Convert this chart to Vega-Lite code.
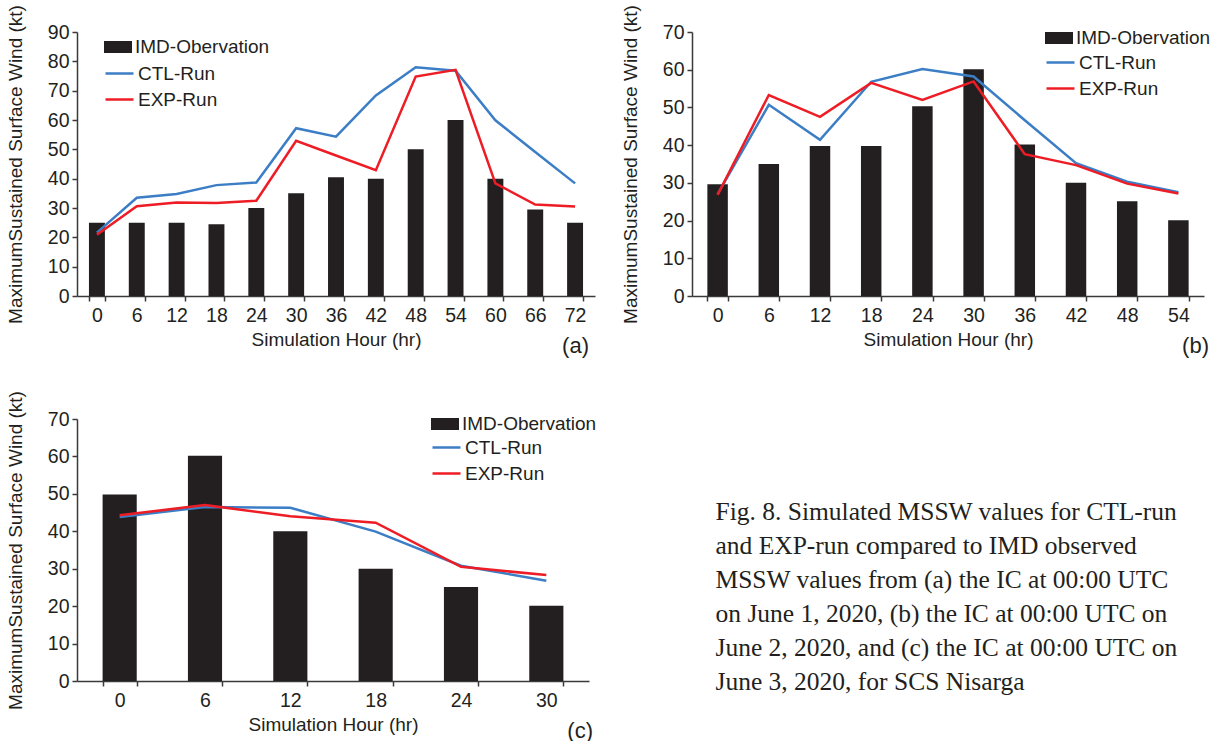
{
  "$schema": "https://vega.github.io/schema/vega-lite/v6.json",
  "background": "white",
  "padding": {"left": 6, "top": 4, "right": 0, "bottom": 0},
  "datasets": {
    "runA": [
      {"hour": 0, "IMD-Obervation": 25, "CTL-Run": 21.6, "EXP-Run": 20.9},
      {"hour": 6, "IMD-Obervation": 25, "CTL-Run": 33.5, "EXP-Run": 30.6},
      {"hour": 12, "IMD-Obervation": 25, "CTL-Run": 34.8, "EXP-Run": 31.9},
      {"hour": 18, "IMD-Obervation": 24.5, "CTL-Run": 37.8, "EXP-Run": 31.7},
      {"hour": 24, "IMD-Obervation": 30, "CTL-Run": 38.7, "EXP-Run": 32.5},
      {"hour": 30, "IMD-Obervation": 35, "CTL-Run": 57.2, "EXP-Run": 52.9},
      {"hour": 36, "IMD-Obervation": 40.5, "CTL-Run": 54.3, "EXP-Run": 47.9},
      {"hour": 42, "IMD-Obervation": 40, "CTL-Run": 68.4, "EXP-Run": 42.9},
      {"hour": 48, "IMD-Obervation": 50, "CTL-Run": 78.0, "EXP-Run": 74.8},
      {"hour": 54, "IMD-Obervation": 60, "CTL-Run": 76.8, "EXP-Run": 77.1},
      {"hour": 60, "IMD-Obervation": 40, "CTL-Run": 59.9, "EXP-Run": 38.4},
      {"hour": 66, "IMD-Obervation": 29.5, "CTL-Run": 49.1, "EXP-Run": 31.2},
      {"hour": 72, "IMD-Obervation": 25, "CTL-Run": 38.4, "EXP-Run": 30.5}
    ],
    "runB": [
      {"hour": 0, "IMD-Obervation": 29.6, "CTL-Run": 27.0, "EXP-Run": 26.8},
      {"hour": 6, "IMD-Obervation": 35, "CTL-Run": 50.7, "EXP-Run": 53.3},
      {"hour": 12, "IMD-Obervation": 39.8, "CTL-Run": 41.4, "EXP-Run": 47.5},
      {"hour": 18, "IMD-Obervation": 39.8, "CTL-Run": 56.8, "EXP-Run": 56.5},
      {"hour": 24, "IMD-Obervation": 50.3, "CTL-Run": 60.2, "EXP-Run": 52.0},
      {"hour": 30, "IMD-Obervation": 60.1, "CTL-Run": 58.2, "EXP-Run": 56.9},
      {"hour": 36, "IMD-Obervation": 40.2, "CTL-Run": 46.6, "EXP-Run": 37.6},
      {"hour": 42, "IMD-Obervation": 30, "CTL-Run": 35.2, "EXP-Run": 34.7},
      {"hour": 48, "IMD-Obervation": 25.1, "CTL-Run": 30.3, "EXP-Run": 29.8},
      {"hour": 54, "IMD-Obervation": 20.1, "CTL-Run": 27.5, "EXP-Run": 27.2}
    ],
    "runC": [
      {"hour": 0, "IMD-Obervation": 49.8, "CTL-Run": 43.8, "EXP-Run": 44.3},
      {"hour": 6, "IMD-Obervation": 60.2, "CTL-Run": 46.5, "EXP-Run": 47.0},
      {"hour": 12, "IMD-Obervation": 40, "CTL-Run": 46.3, "EXP-Run": 44.0},
      {"hour": 18, "IMD-Obervation": 30, "CTL-Run": 39.9, "EXP-Run": 42.3},
      {"hour": 24, "IMD-Obervation": 25.1, "CTL-Run": 30.8, "EXP-Run": 30.5},
      {"hour": 30, "IMD-Obervation": 20.1, "CTL-Run": 26.8, "EXP-Run": 28.3}
    ],
    "caption": [
      {"text": "Fig. 8. Simulated MSSW values for CTL-run\nand EXP-run compared to IMD observed\nMSSW values from (a) the IC at 00:00 UTC\non June 1, 2020, (b) the IC at 00:00 UTC on\nJune 2, 2020, and (c) the IC at 00:00 UTC on\nJune 3, 2020, for SCS Nisarga"}
    ]
  },
  "config": {
    "font": "Liberation Sans",
    "view": {"stroke": null},
    "axis": {
      "grid": false,
      "domainColor": "#3a3a3a",
      "domainWidth": 1.5,
      "tickColor": "#3a3a3a",
      "tickWidth": 1.5,
      "tickSize": 5,
      "labelColor": "#231f20",
      "titleColor": "#231f20",
      "labelFont": "Liberation Sans",
      "titleFont": "Liberation Sans",
      "labelFontSize": 19.5,
      "titleFontSize": 19,
      "titleFontWeight": "normal",
      "labelPadding": 3
    },
    "axisX": {"titleFontSize": 19, "labelPadding": 5},
    "legend": {
      "title": null,
      "orient": "none",
      "padding": 0,
      "labelFont": "Liberation Sans",
      "labelFontSize": 19,
      "labelColor": "#231f20",
      "labelOffset": 3,
      "rowPadding": -4,
      "symbolSize": 784
    },
    "title": {"font": "Liberation Sans", "fontSize": 22, "fontWeight": "normal", "color": "#231f20"}
  },
  "resolve": {
    "scale": {"fill": "independent", "stroke": "independent"},
    "legend": {"fill": "independent", "stroke": "independent"}
  },
  "spacing": 33,
  "vconcat": [
    {
      "spacing": 26,
      "resolve": {
        "scale": {"fill": "independent", "stroke": "independent"},
        "legend": {"fill": "independent", "stroke": "independent"}
      },
      "hconcat": [
        {
          "width": 518,
          "height": 264,
          "data": {"name": "runA"},
          "title": {"text": "(a)", "orient": "bottom", "anchor": "end", "frame": "group", "offset": -14, "dx": -6},
          "encoding": {
            "x": {
              "field": "hour", "type": "ordinal",
              "scale": {"paddingInner": 0.6, "paddingOuter": 0.3},
              "axis": {"title": "Simulation Hour (hr)", "labelAngle": 0, "tickBand": "extent", "titlePadding": 6}
            },
            "y": {"field": "value", "type": "quantitative", "scale": {"domain": [0, 90]},
                  "axis": {"title": "MaximumSustained Surface Wind (kt)", "values": [0,10,20,30,40,50,60,70,80,90], "titlePadding": 22}}
          },
          "layer": [
            {
              "transform": [{"fold": ["IMD-Obervation"], "as": ["series", "value"]}],
              "mark": {"type": "bar"},
              "encoding": {
                "fill": {"field": "series", "type": "nominal", "scale": {"range": ["#231f20"]},
                         "legend": {"symbolType": "M-1,-0.43H1V0.43H-1Z", "symbolStrokeWidth": 0, "legendX": 27, "legendY": 1}}
              }
            },
            {
              "transform": [{"fold": ["CTL-Run", "EXP-Run"], "as": ["series", "value"]}],
              "mark": {"type": "line", "strokeWidth": 2.5},
              "encoding": {
                "stroke": {"field": "series", "type": "nominal",
                           "scale": {"domain": ["CTL-Run", "EXP-Run"], "range": ["#3b7ec6", "#ee1c25"]},
                           "legend": {"symbolType": "M-1,0H1", "symbolStrokeWidth": 2.5, "legendX": 27, "legendY": 26}}
              }
            }
          ]
        },
        {
          "width": 512,
          "height": 264,
          "data": {"name": "runB"},
          "title": {"text": "(b)", "orient": "bottom", "anchor": "end", "frame": "group", "offset": -14, "dx": 5},
          "encoding": {
            "x": {
              "field": "hour", "type": "ordinal",
              "scale": {"paddingInner": 0.6, "paddingOuter": 0.3},
              "axis": {"title": "Simulation Hour (hr)", "labelAngle": 0, "tickBand": "extent", "titlePadding": 6}
            },
            "y": {"field": "value", "type": "quantitative", "scale": {"domain": [0, 70]},
                  "axis": {"title": "MaximumSustained Surface Wind (kt)", "values": [0,10,20,30,40,50,60,70], "titlePadding": 22}}
          },
          "layer": [
            {
              "transform": [{"fold": ["IMD-Obervation"], "as": ["series", "value"]}],
              "mark": {"type": "bar"},
              "encoding": {
                "fill": {"field": "series", "type": "nominal", "scale": {"range": ["#231f20"]},
                         "legend": {"symbolType": "M-1,-0.43H1V0.43H-1Z", "symbolStrokeWidth": 0, "legendX": 353, "legendY": -8}}
              }
            },
            {
              "transform": [{"fold": ["CTL-Run", "EXP-Run"], "as": ["series", "value"]}],
              "mark": {"type": "line", "strokeWidth": 2.5},
              "encoding": {
                "stroke": {"field": "series", "type": "nominal",
                           "scale": {"domain": ["CTL-Run", "EXP-Run"], "range": ["#3b7ec6", "#ee1c25"]},
                           "legend": {"symbolType": "M-1,0H1", "symbolStrokeWidth": 2.5, "legendX": 353, "legendY": 15}}
              }
            }
          ]
        }
      ]
    },
    {
      "spacing": 118,
      "resolve": {
        "scale": {"fill": "independent", "stroke": "independent"},
        "legend": {"fill": "independent", "stroke": "independent"}
      },
      "hconcat": [
        {
          "width": 512,
          "height": 262,
          "data": {"name": "runC"},
          "title": {"text": "(c)", "orient": "bottom", "anchor": "end", "frame": "group", "offset": -14, "dx": 4},
          "encoding": {
            "x": {
              "field": "hour", "type": "ordinal",
              "scale": {"paddingInner": 0.6, "paddingOuter": 0.3},
              "axis": {"title": "Simulation Hour (hr)", "labelAngle": 0, "tickBand": "extent", "titlePadding": 6}
            },
            "y": {"field": "value", "type": "quantitative", "scale": {"domain": [0, 70]},
                  "axis": {"title": "MaximumSustained Surface Wind (kt)", "values": [0,10,20,30,40,50,60,70], "titlePadding": 22}}
          },
          "layer": [
            {
              "transform": [{"fold": ["IMD-Obervation"], "as": ["series", "value"]}],
              "mark": {"type": "bar"},
              "encoding": {
                "fill": {"field": "series", "type": "nominal", "scale": {"range": ["#231f20"]},
                         "legend": {"symbolType": "M-1,-0.43H1V0.43H-1Z", "symbolStrokeWidth": 0, "legendX": 354, "legendY": -9}}
              }
            },
            {
              "transform": [{"fold": ["CTL-Run", "EXP-Run"], "as": ["series", "value"]}],
              "mark": {"type": "line", "strokeWidth": 2.5},
              "encoding": {
                "stroke": {"field": "series", "type": "nominal",
                           "scale": {"domain": ["CTL-Run", "EXP-Run"], "range": ["#3b7ec6", "#ee1c25"]},
                           "legend": {"symbolType": "M-1,0H1", "symbolStrokeWidth": 2.5, "legendX": 354, "legendY": 13}}
              }
            }
          ]
        },
        {
          "width": 1,
          "height": 185,
          "data": {"name": "caption"},
          "mark": {"type": "text", "align": "left", "baseline": "middle", "lineBreak": "\n", "lineHeight": 34,
                   "font": "Liberation Serif", "fontSize": 25.5, "color": "#231f20"},
          "encoding": {"text": {"field": "text", "type": "nominal"}}
        }
      ]
    }
  ]
}
